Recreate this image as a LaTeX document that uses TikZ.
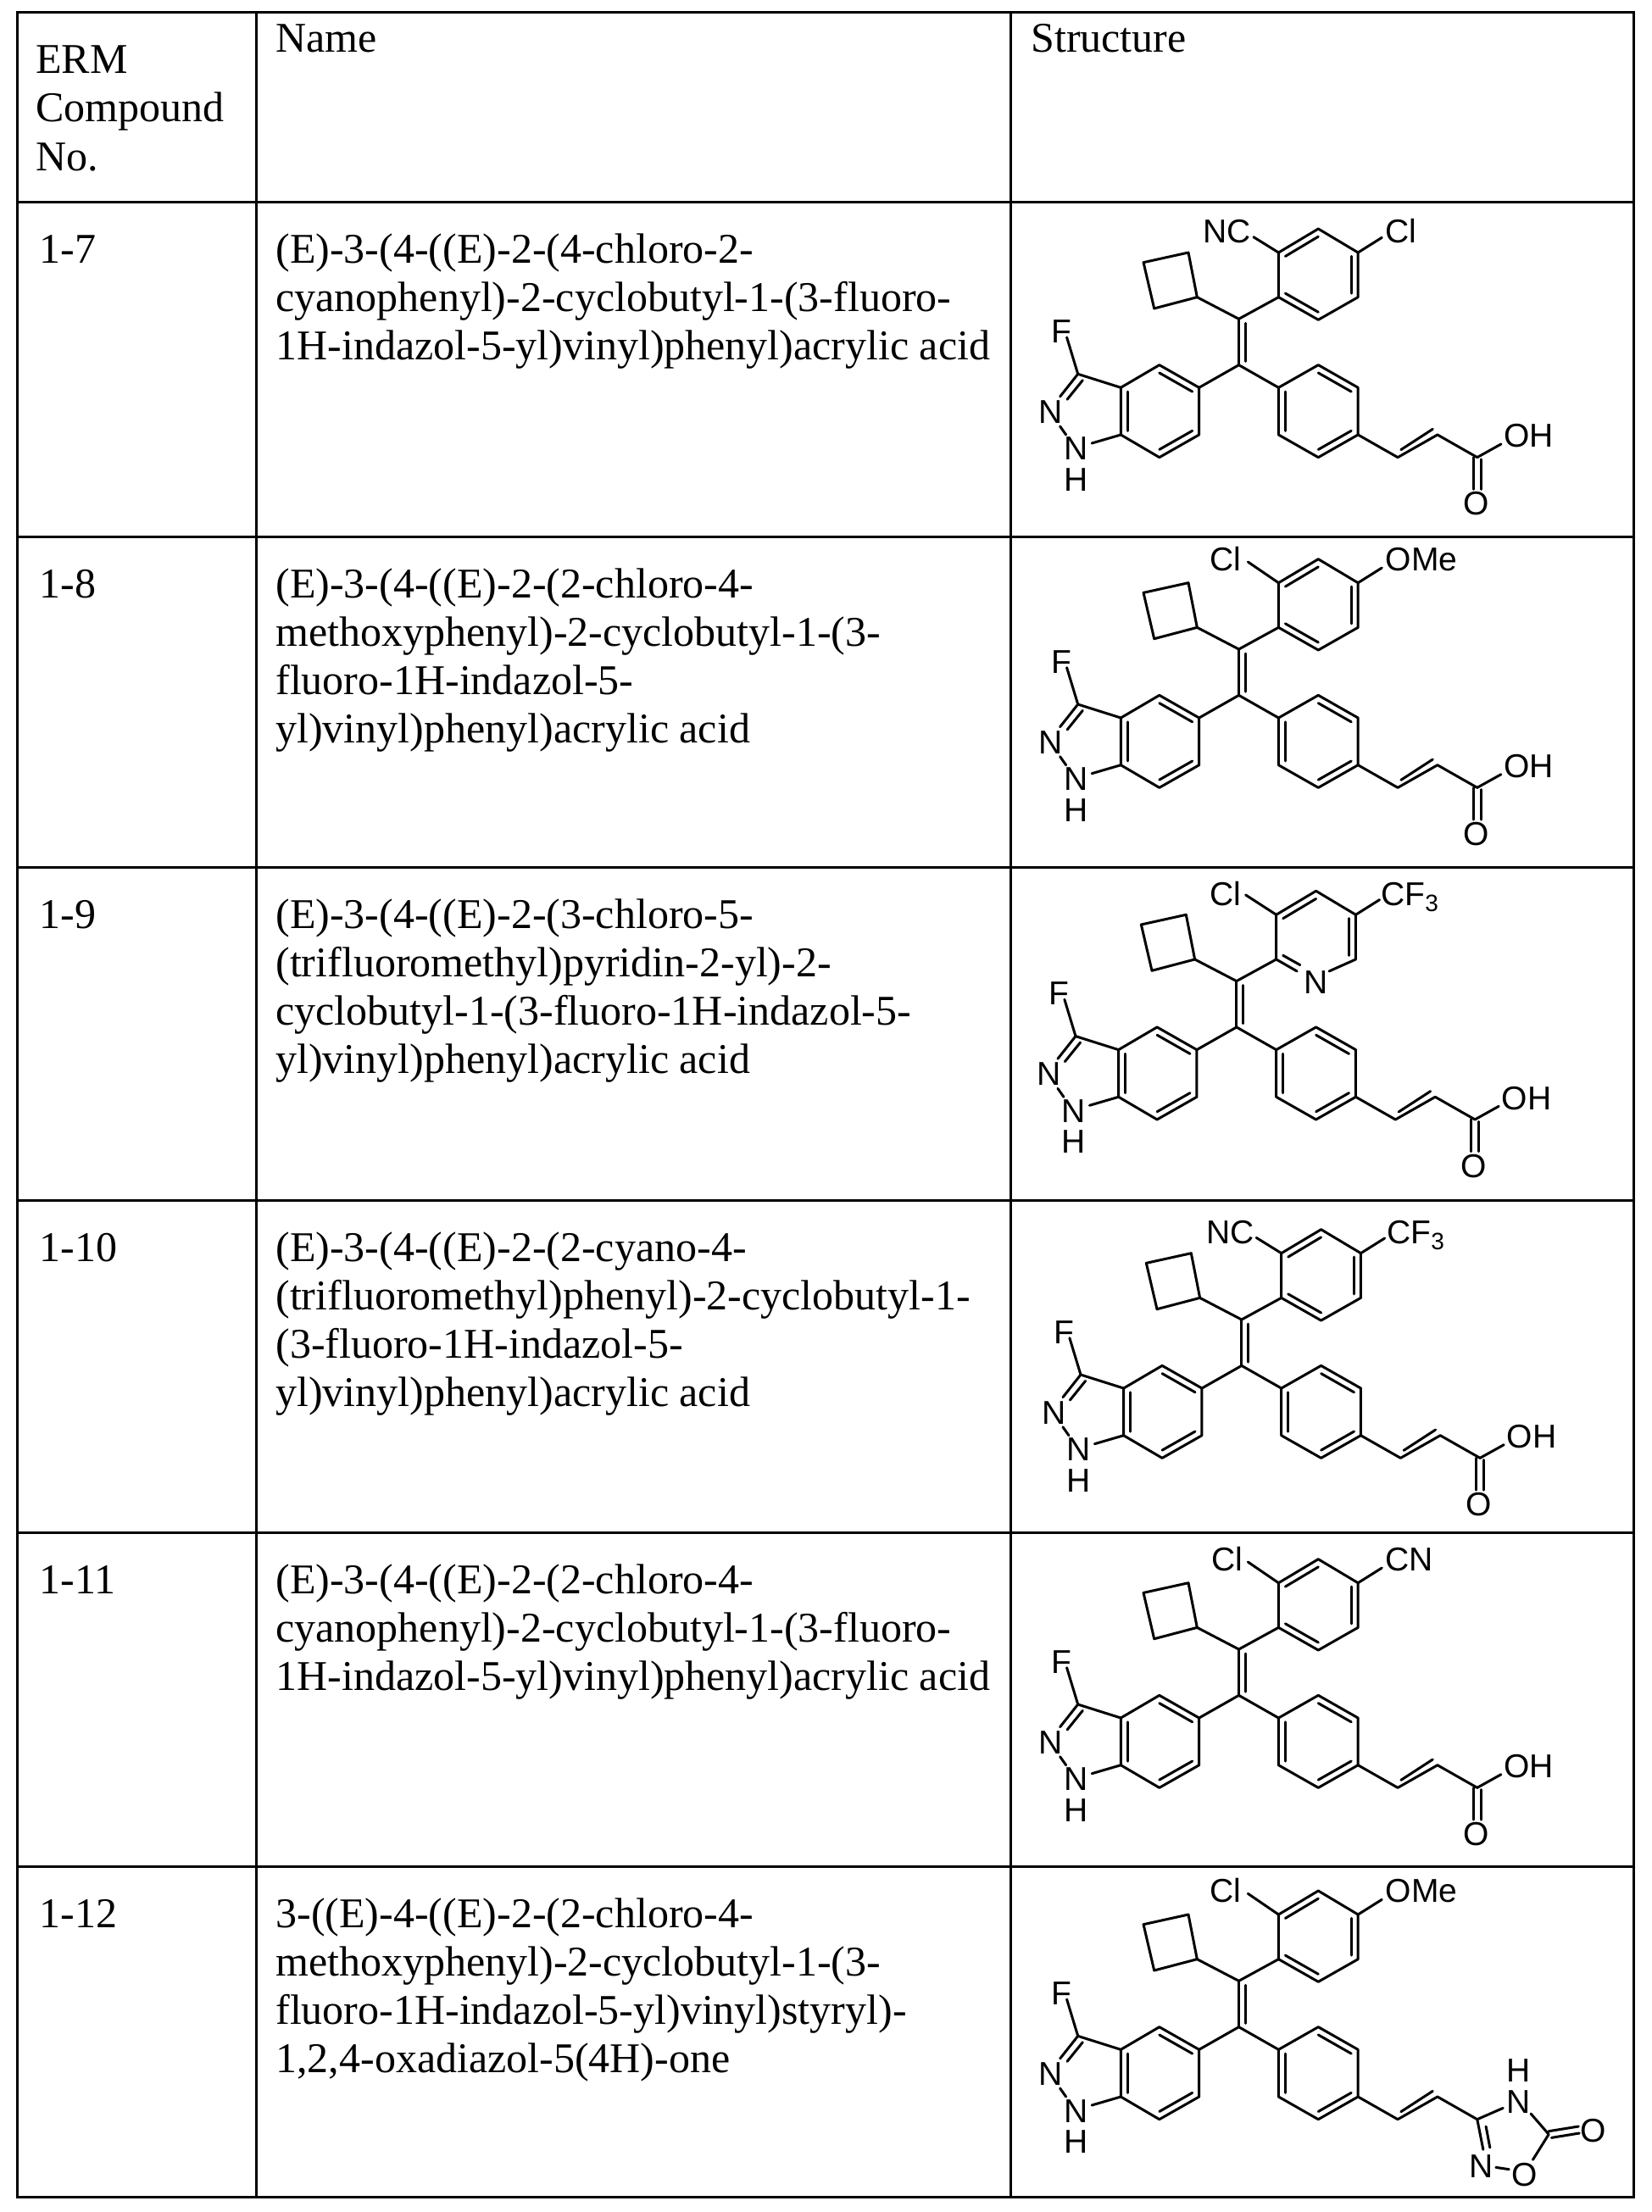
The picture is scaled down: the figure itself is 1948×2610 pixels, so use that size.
\documentclass[tikz,border=0pt]{standalone}
\usepackage{fontspec}
\setmainfont{Liberation Serif}
\newfontfamily\chemf{Liberation Sans}
\usetikzlibrary{calc}
\tikzset{
  bond/.style={line width=1.5pt, line cap=round, line join=round},
  lab/.style={font=\chemf\fontsize{19.5}{20}\selectfont, inner sep=0pt, anchor=base},
  tt/.style={font=\fontsize{25}{28}\selectfont, inner sep=0pt, anchor=base west},
  grid/.style={line width=1.5pt}
}
\newcommand\ib[3]{\draw[bond] ($(#1)!0.17!(#3)$) -- ($(#2)!0.17!(#3)$);}
\newcommand\nlines[3]{\foreach \t [count=\i from 0] in {#3} {\node[tt] at (#1,{#2+57*\i}) {\t};}}
\newcommand\core{%
  \draw[bond] (470,338)--(448,180)--(335,215)--(362,378)--cycle;
  \draw[bond] (470,338)--(575,415)--(675,338);
  \draw[bond] (575,415)--(575,578);
  \draw[bond] (592,430)--(592,565);
  \draw[bond] (475,658)--(575,578)--(675,658);
  \draw[bond] (475,658)--(375,578)--(278,658)--(278,825)--(375,905)--(475,825)--cycle;
  \ib{375,578}{475,658}{375,742}\ib{278,658}{278,825}{375,742}\ib{375,905}{475,825}{375,742}
  \draw[bond] (278,658)--(170,610)--(125,690);
  \draw[bond] (182,632)--(143,700);
  \draw[bond] (170,610)--(142,480);
  \draw[bond] (125,795)--(140,825);
  \draw[bond] (205,855)--(278,825);
  \node[lab] (F) at (128,500) {F};
  \node[lab] (N2) at (102,785) {N};
  \node[lab] (N1) at (165,915) {N};
  \node[lab] (H1) at (165,1025) {H};
  \draw[bond] (675,658)--(775,578)--(875,658)--(875,825)--(775,905)--(675,825)--cycle;
  \ib{775,578}{875,658}{775,742}\ib{675,658}{675,825}{775,742}\ib{875,825}{775,905}{775,742}
  \draw[bond] (875,825)--(975,905)--(1075,825)--(1175,905);
  \draw[bond] (983,878)--(1063,805);
}
\newcommand\benz{%
  \draw[bond] (675,338)--(675,180)--(775,96)--(875,180)--(875,338)--(775,418)--cycle;
  \ib{675,180}{775,96}{775,258}\ib{875,180}{875,338}{775,258}\ib{675,338}{775,418}{775,258}
}
\newcommand\pyr{%
  \draw[bond] (727,380)--(675,338)--(675,180)--(775,96)--(875,180)--(875,338)--(808,380);
  \ib{675,180}{775,96}{775,258}\ib{875,180}{875,338}{775,258}
  \draw[bond] (692,324)--(735,358);
  \node[lab] (Np) at (775,460) {N};
}
\newcommand\acid{%
  \draw[bond] (1175,905)--(1235,858);
  \draw[bond] (1166,905)--(1166,1018);
  \draw[bond] (1184,912)--(1184,1018);
  \node[lab] (OH) at (1305,870) {OH};
  \node[lab] (Oa) at (1172,1110) {O};
}
\newcommand\oxa{%
  \draw[bond] (1175,905)--(1240,865);
  \draw[bond] (1310,885)--(1355,958)--(1315,1048);
  \draw[bond] (1222,1075)--(1255,1082);
  \draw[bond] (1175,905)--(1190,1012);
  \draw[bond] (1197,930)--(1207,1005);
  \draw[bond] (1355,947)--(1430,930);
  \draw[bond] (1362,970)--(1432,954);
  \node[lab] (Hx) at (1278,772) {H};
  \node[lab] (Nx) at (1278,882) {N};
  \node[lab] (Ox) at (1468,985) {O};
  \node[lab] (Oy) at (1295,1140) {O};
  \node[lab] (Ny) at (1185,1110) {N};
}
\newcommand\leftsub[1]{\draw[bond] (675,180)--(#1);}
\newcommand\rightsub{\draw[bond] (875,180)--(935,127);}
\newcommand\cft{CF\raisebox{-3.5pt}{\fontsize{14}{14}\selectfont 3}}
\begin{document}
\begin{tikzpicture}[x=0.5pt,y=-0.5pt]
\useasboundingbox (0,0) rectangle (1948,2610);
% table
\draw[grid] (20,15) rectangle (1927,2592);
\foreach \yy in {239,633,1023,1416,1808,2202} \draw[grid] (20,\yy)--(1927,\yy);
\draw[grid] (302,15)--(302,2592);
\draw[grid] (1192,15)--(1192,2592);
% header
\node[tt] (h1) at (42,87) {ERM};
\node[tt] (h2) at (42,144) {Compound};
\node[tt] (h3) at (42,202) {No.};
\node[tt] (h4) at (325,62) {Name};
\node[tt] (h5) at (1216,62) {Structure};
% numbers
\node[tt] (c1) at (46,311) {1-7};
\node[tt] (c2) at (46,705) {1-8};
\node[tt] (c3) at (46,1095) {1-9};
\node[tt] (c4) at (46,1488) {1-10};
\node[tt] (c5) at (46,1880) {1-11};
\node[tt] (c6) at (46,2274) {1-12};
% names
\nlines{325}{311}{{(E)-3-(4-((E)-2-(4-chloro-2-},{cyanophenyl)-2-cyclobutyl-1-(3-fluoro-},{1H-indazol-5-yl)vinyl)phenyl)acrylic acid}}
\nlines{325}{705}{{(E)-3-(4-((E)-2-(2-chloro-4-},{methoxyphenyl)-2-cyclobutyl-1-(3-},{fluoro-1H-indazol-5-},{yl)vinyl)phenyl)acrylic acid}}
\nlines{325}{1095}{{(E)-3-(4-((E)-2-(3-chloro-5-},{(trifluoromethyl)pyridin-2-yl)-2-},{cyclobutyl-1-(3-fluoro-1H-indazol-5-},{yl)vinyl)phenyl)acrylic acid}}
\nlines{325}{1488}{{(E)-3-(4-((E)-2-(2-cyano-4-},{(trifluoromethyl)phenyl)-2-cyclobutyl-1-},{(3-fluoro-1H-indazol-5-},{yl)vinyl)phenyl)acrylic acid}}
\nlines{325}{1880}{{(E)-3-(4-((E)-2-(2-chloro-4-},{cyanophenyl)-2-cyclobutyl-1-(3-fluoro-},{1H-indazol-5-yl)vinyl)phenyl)acrylic acid}}
\nlines{325}{2274}{{3-((E)-4-((E)-2-(2-chloro-4-},{methoxyphenyl)-2-cyclobutyl-1-(3-},{fluoro-1H-indazol-5-yl)vinyl)styryl)-},{1,2,4-oxadiazol-5(4H)-one}}
% structures
\begin{scope}[shift={(1192,238)},xscale=0.46875,yscale=0.33333]
  \core\benz\acid \leftsub{612,125}\rightsub
  \node[lab] (s1a) at (546,145) {NC};
  \node[lab] (s1b) at (983,145) {Cl};
\end{scope}
\begin{scope}[shift={(1192,627.7)},xscale=0.46875,yscale=0.33333]
  \core\benz\acid \leftsub{598,106}\rightsub
  \node[lab] (s2a) at (542,137) {Cl};
  \node[lab] (s2b) at (1035,137) {OMe};
\end{scope}
\begin{scope}[shift={(1189.3,1019.3)},xscale=0.46875,yscale=0.33333]
  \core\pyr\acid \leftsub{598,110}\rightsub
  \node[lab] (s3a) at (548,147) {Cl};
  \node[lab,anchor=base west] (s3b) at (938,147) {\cft};
\end{scope}
\begin{scope}[shift={(1195.3,1418.7)},xscale=0.46875,yscale=0.33333]
  \core\benz\acid \leftsub{612,125}\rightsub
  \node[lab] (s4a) at (546,145) {NC};
  \node[lab,anchor=base west] (s4b) at (940,145) {\cft};
\end{scope}
\begin{scope}[shift={(1192,1807.7)},xscale=0.46875,yscale=0.33333]
  \core\benz\acid \leftsub{598,106}\rightsub
  \node[lab] (s5a) at (545,137) {Cl};
  \node[lab] (s5b) at (1003,137) {CN};
\end{scope}
\begin{scope}[shift={(1192,2199)},xscale=0.46875,yscale=0.33333]
  \core\benz\oxa \leftsub{598,106}\rightsub
  \node[lab] (s6a) at (542,137) {Cl};
  \node[lab] (s6b) at (1035,137) {OMe};
\end{scope}
\end{tikzpicture}
\end{document}
